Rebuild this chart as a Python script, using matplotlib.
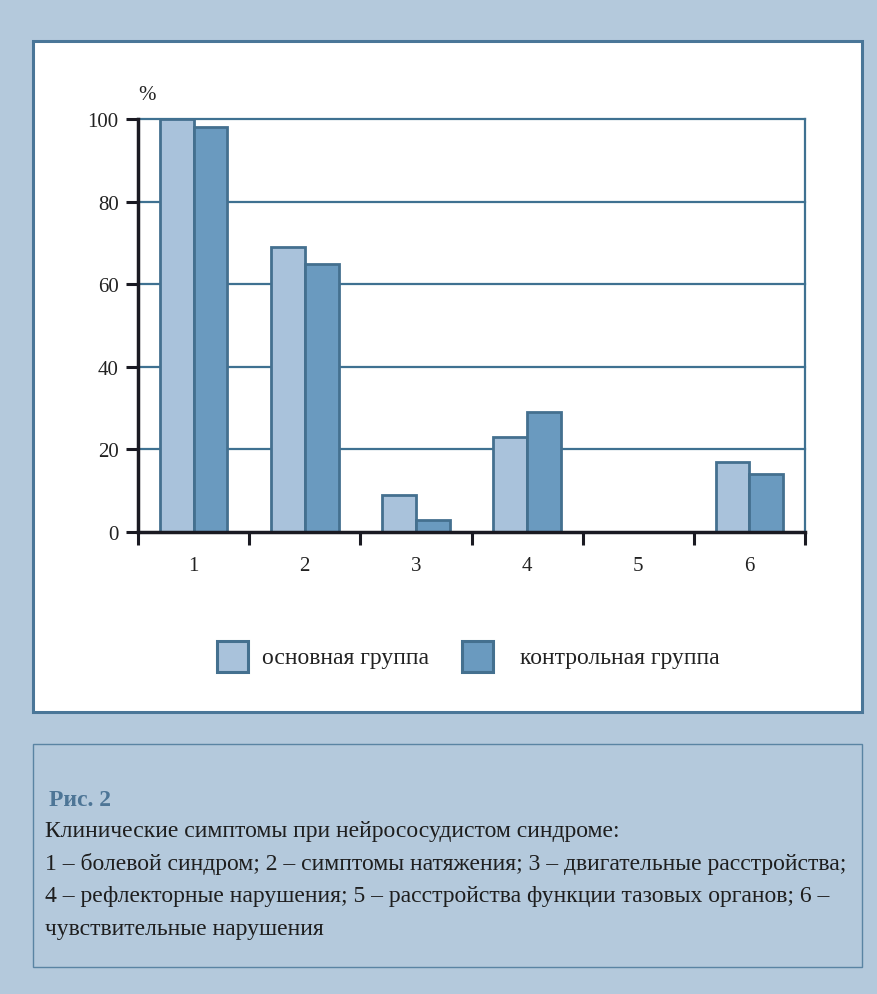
import matplotlib.pyplot as plt
from matplotlib.patches import Rectangle
import numpy as np

categories = ['1', '2', '3', '4', '5', '6']
main_group = [100, 69, 9, 23, 0, 17]
control_group = [98, 65, 3, 29, 0, 14]
y_ticks = [0, 20, 40, 60, 80, 100]
legend_labels = ['основная группа', 'контрольная группа']

caption_title = 'Рис. 2'
caption_lines = [
    'Клинические симптомы при нейрососудистом синдроме:',
    '1 – болевой синдром; 2 – симптомы натяжения; 3 – двигательные расстройства;',
    '4 – рефлекторные нарушения; 5 – расстройства функции тазовых органов; 6 –',
    'чувствительные нарушения',
]

BG = '#b4c9dc'
LIGHT = '#a9c2db'
DARK = '#6a9abf'
EDGE = '#44708f'
GRID = '#3f7191'
W, H = 877, 995

plt.rcParams['font.family'] = ['Liberation Serif', 'DejaVu Serif']

fig = plt.figure(figsize=(W / 100, H / 100), dpi=100)
fig.patch.set_facecolor(BG)

def fx(px):
    return px / W

def fy(py):
    return 1 - py / H

# white chart panel and caption box
fig.add_artist(Rectangle((fx(33), fy(713)), fx(862) - fx(33), fy(42) - fy(713),
                         transform=fig.transFigure, facecolor='white',
                         edgecolor='#4a7698', linewidth=2.2, zorder=0))
fig.add_artist(Rectangle((fx(33), fy(968)), fx(862) - fx(33), fy(745) - fy(968),
                         transform=fig.transFigure, facecolor=BG,
                         edgecolor='#5a84a3', linewidth=1.0, zorder=0))

ax = fig.add_axes([fx(138), fy(533), fx(805) - fx(138), fy(120) - fy(533)])
ax.set_facecolor('none')

x = np.arange(1, len(categories) + 1)
bw = 0.305
ax.bar(x - bw / 2, main_group, bw, color=LIGHT, edgecolor=EDGE, linewidth=2, zorder=3)
ax.bar(x + bw / 2, control_group, bw, color=DARK, edgecolor=EDGE, linewidth=2, zorder=3)

ax.set_xlim(0.5, len(categories) + 0.5)
ax.set_ylim(0, 100)
ax.set_yticks(y_ticks)
ax.set_yticklabels([str(v) for v in y_ticks], fontsize=15, color='#222222')
for v in y_ticks[1:]:
    ax.axhline(v, color=GRID, linewidth=1.6, zorder=1, clip_on=False)

ax.set_xticks(x)
ax.set_xticklabels(categories, fontsize=15, color='#222222')
ax.set_xticks(np.arange(0.5, len(categories) + 1), minor=True)
ax.tick_params(axis='x', which='major', length=0, pad=17)
ax.tick_params(axis='x', which='minor', direction='out', length=9, width=2.2, color='#1a1a22')
ax.tick_params(axis='y', direction='out', length=9, width=2.2, color='#1a1a22', pad=5)

ax.spines['top'].set_visible(False)
ax.spines['right'].set_color(GRID)
ax.spines['right'].set_linewidth(1.6)
ax.spines['left'].set_color('#1a1a22')
ax.spines['left'].set_linewidth(2.5)
ax.spines['left'].set_zorder(4)
ax.spines['bottom'].set_color('#1a1a22')
ax.spines['bottom'].set_linewidth(2.5)
ax.spines['bottom'].set_zorder(4)

fig.text(fx(147), fy(95), '%', fontsize=15, ha='center', va='center', color='#222222')

# legend
for (sx, tx), lab, col in zip([(217, 262), (462, 520)], legend_labels, [LIGHT, DARK]):
    fig.add_artist(Rectangle((fx(sx), fy(673)), fx(31), 31 / H,
                             transform=fig.transFigure, facecolor=col,
                             edgecolor=EDGE, linewidth=2.2))
    fig.text(fx(tx), fy(659), lab, fontsize=17, ha='left', va='center', color='#222222')

# caption
fig.text(fx(49), fy(801), caption_title, fontsize=17, fontweight='bold',
         color='#4d7596', ha='left', va='center')
for i, line in enumerate(caption_lines):
    fig.text(fx(45), fy(832 + i * 32.5), line, fontsize=17, color='#1e1e1e',
             ha='left', va='center')

fig.savefig('out.png', dpi=100, facecolor=BG)
